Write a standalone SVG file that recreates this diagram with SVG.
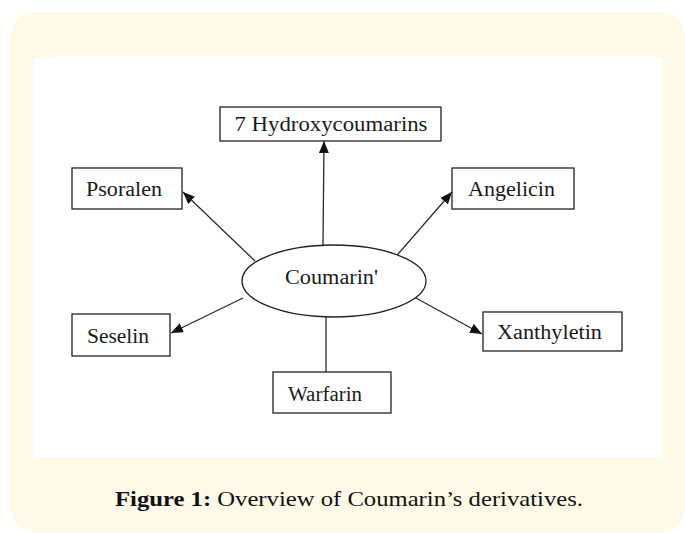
<svg xmlns="http://www.w3.org/2000/svg" width="685" height="533" viewBox="0 0 685 533">
<style>
.box{fill:#fff;stroke:#222;stroke-width:1.3}
.lbl{font-family:"Liberation Serif","Times New Roman",serif;font-size:20px;fill:#1a1a1a;text-anchor:middle}
.con{stroke:#2a2a2a;stroke-width:1.3;fill:none}
.cap{font-family:"Liberation Serif","DejaVu Serif",serif;font-size:22px;fill:#111}
</style>
<defs>
<marker id="ah" viewBox="0 0 12 10" refX="12" refY="5" markerWidth="12" markerHeight="10" markerUnits="userSpaceOnUse" orient="auto">
<path d="M0,0 L12,5 L0,10 Z" fill="#111"/>
</marker>
</defs>
<rect x="10" y="12" width="675" height="520" rx="25" ry="25" fill="#fffae8"/>
<rect x="33" y="58" width="629" height="399" fill="#fff"/>
<g id="connectors">
<line class="con" x1="323" y1="246" x2="324" y2="141" marker-end="url(#ah)"/>
<line class="con" x1="255" y1="261" x2="183" y2="192" marker-end="url(#ah)"/>
<line class="con" x1="392" y1="261" x2="452" y2="192" marker-end="url(#ah)"/>
<line class="con" x1="243" y1="298" x2="171" y2="333" marker-end="url(#ah)"/>
<line class="con" x1="414" y1="297" x2="482" y2="334" marker-end="url(#ah)"/>
<line class="con" x1="326" y1="317" x2="326" y2="372"/>
</g>
<g id="coumarin">
<ellipse class="box" cx="334" cy="281" rx="92" ry="36"/>
<text class="lbl" x="331.5" y="284" textLength="93" lengthAdjust="spacingAndGlyphs">Coumarin'</text>
</g>
<g id="hydroxy">
<rect class="box" x="220" y="107" width="221" height="34"/>
<text class="lbl" x="331" y="131" textLength="193" lengthAdjust="spacingAndGlyphs">7 Hydroxycoumarins</text>
</g>
<g id="psoralen">
<rect class="box" x="72" y="168" width="110" height="41"/>
<text class="lbl" x="124" y="196" textLength="76" lengthAdjust="spacingAndGlyphs">Psoralen</text>
</g>
<g id="angelicin">
<rect class="box" x="452" y="168" width="122" height="41"/>
<text class="lbl" x="511.5" y="196" textLength="87" lengthAdjust="spacingAndGlyphs">Angelicin</text>
</g>
<g id="seselin">
<rect class="box" x="72" y="314" width="98" height="42"/>
<text class="lbl" x="118" y="343" textLength="62" lengthAdjust="spacingAndGlyphs">Seselin</text>
</g>
<g id="xanthyletin">
<rect class="box" x="483" y="312" width="139" height="39"/>
<text class="lbl" x="549.5" y="339" textLength="105" lengthAdjust="spacingAndGlyphs">Xanthyletin</text>
</g>
<g id="warfarin">
<rect class="box" x="273" y="372" width="118" height="41"/>
<text class="lbl" x="325" y="401" textLength="74" lengthAdjust="spacingAndGlyphs">Warfarin</text>
</g>
<text class="cap" x="115" y="506" textLength="468" lengthAdjust="spacingAndGlyphs"><tspan font-weight="bold">Figure 1:</tspan> Overview of Coumarin’s derivatives.</text>
</svg>
